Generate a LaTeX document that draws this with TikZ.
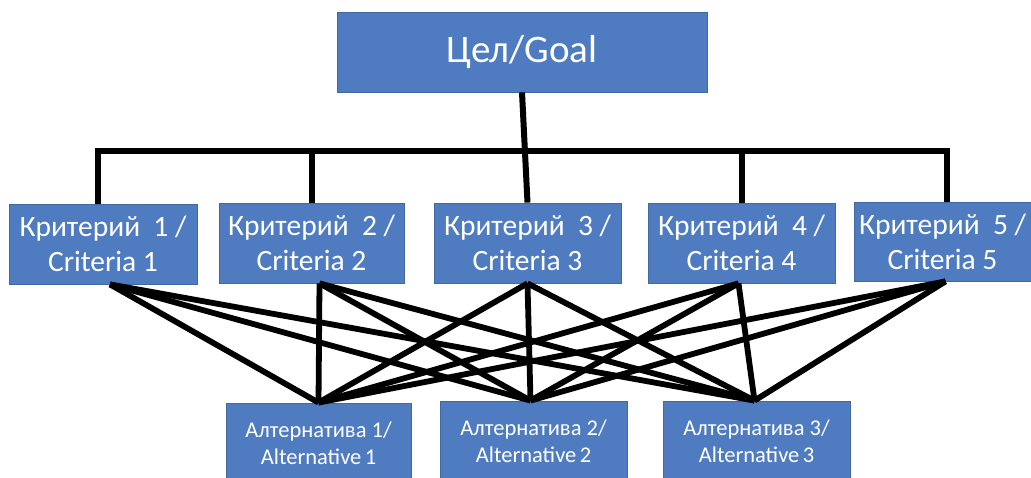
\documentclass[tikz,border=0pt]{standalone}
\usepackage{fontspec}
\setmainfont{Carlito}
\definecolor{boxblue}{HTML}{4F7BC0}
\definecolor{boxedge}{HTML}{41699F}
\begin{document}
\begin{tikzpicture}[x=1pt,y=-1pt,
  box/.style={rectangle, fill=boxblue, draw=boxedge, line width=0.8pt, inner sep=0pt, align=center, text=white},
  conn/.style={line width=5.8pt, black},
  bus/.style={line width=6pt, black, line join=miter}]
\useasboundingbox (0,0) rectangle (1031,478);
\node[box, minimum width=370pt, minimum height=80pt, font=\fontsize{39}{46}\selectfont] (goal) at (522,52) {Цел/Goal};
\tikzset{crit/.style={box, minimum width=187pt, minimum height=80pt, font=\fontsize{29.5}{35}\selectfont}}
\node[crit, minimum width=188pt] (c1) at (103,244) {Критерий\hspace{0.45em}1 /\\Criteria 1};
\node[crit, minimum width=185pt] (c2) at (311.5,243) {Критерий\hspace{0.45em}2 /\\Criteria 2};
\node[crit] (c3) at (527.5,243) {Критерий\hspace{0.45em}3 /\\Criteria 3};
\node[crit] (c4) at (741.5,243) {Критерий\hspace{0.45em}4 /\\Criteria 4};
\node[crit, minimum width=177pt, minimum height=79pt] (c5) at (942.5,241.5) {Критерий\hspace{0.45em}5 /\\Criteria 5};
\tikzset{alt/.style={box, minimum width=187pt, minimum height=80pt, font=\fontsize{22.5}{27}\selectfont}}
\node[alt, minimum width=185pt] (a1) at (318.5,443) {Алтернатива 1/\\Alternative\hspace{0.15em}1};
\node[alt] (a2) at (533.5,441) {Алтернатива 2/\\Alternative\hspace{0.15em}2};
\node[alt] (a3) at (756.5,441) {Алтернатива 3/\\Alternative\hspace{0.15em}3};
% bus
\coordinate (busy) at (0,151);
\coordinate (b1) at ([xshift=-5pt]c1.north);
\coordinate (b5) at ([xshift=4pt]c5.north);
\draw[bus] (b1) -- (b1 |- busy) -- (b5 |- busy) -- (b5);
\draw[bus] (c2.north) -- (c2.north |- busy);
\draw[bus] (c4.north) -- (c4.north |- busy);
\draw[bus] (goal.south) -- (c3.north);
% criteria to alternatives
\coordinate (s1) at ([xshift=7pt]c1.south);
\coordinate (s2) at ([xshift=8pt]c2.south);
\coordinate (s3) at (c3.south);
\coordinate (s4) at ([xshift=-3pt]c4.south);
\coordinate (s5) at ([xshift=3pt]c5.south);
\coordinate (t1) at (a1.north);
\coordinate (t2) at ([xshift=-3pt]a2.north);
\coordinate (t3) at ([xshift=-2pt]a3.north);
\foreach \s in {s1,s2,s3,s4,s5}{
  \foreach \t in {t1,t2,t3}{
    \draw[conn] (\s) -- (\t);
  }
}
\end{tikzpicture}
\end{document}
